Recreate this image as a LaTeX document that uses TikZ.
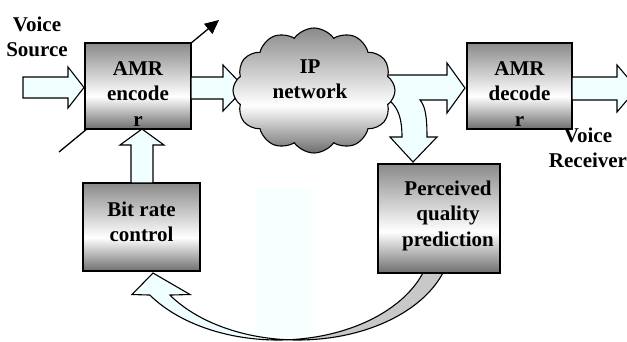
\documentclass[tikz,border=0pt]{standalone}
\usepackage{fontspec}
\setmainfont{Liberation Serif}
\usetikzlibrary{shapes.symbols,arrows.meta}
\definecolor{azurefill}{HTML}{F0FFFF}
\definecolor{bandgray}{HTML}{C8C8C8}
\definecolor{faint}{HTML}{F7FFFF}
\definecolor{shtop}{HTML}{8A8A8A}
\definecolor{shbot}{HTML}{6E6E6E}
\pgfdeclareverticalshading{boxshade}{100bp}{color(0bp)=(shbot); color(25bp)=(shbot); color(44bp)=(white); color(75bp)=(shtop); color(100bp)=(shtop)}
\newcommand{\mlines}[1]{\begin{tabular}[t]{@{}c@{}}#1\end{tabular}}
\begin{document}
\begin{tikzpicture}[x=1pt,y=-1pt,
  outl/.style={draw=black, line width=1.1pt, line join=miter},
  blk/.style={outl, fill=azurefill},
  boxst/.style={outl, shade, shading=boxshade, rectangle, inner sep=0pt},
  lbl/.style={font=\fontsize{21}{25.5}\selectfont\bfseries, inner sep=0pt, anchor=base}
]
\useasboundingbox (0,0) rectangle (627,341);
\clip (0,0) rectangle (627,341);

% faint background box
\fill[faint] (255,188) rectangle (313,341);

% curved feedback arrow: light part with head
\draw[blk] (132,294.5) -- (153,273) -- (190,294.5)
  -- plot[domain=146.6:93.7, samples=40, variable=\t] ({298+153.5*cos(\t)},{240+100*sin(\t)})
  -- plot[domain=86.3:146.6, samples=40, variable=\t] ({278+153.5*cos(\t)},{240+100*sin(\t)})
  -- cycle;
% curved feedback arrow: gray part
\draw[outl, fill=bandgray]
  plot[domain=86.3:15, samples=40, variable=\t] ({278+153.5*cos(\t)},{240+100*sin(\t)})
  -- plot[domain=15:93.7, samples=40, variable=\t] ({298+153.5*cos(\t)},{240+100*sin(\t)})
  -- cycle;

% diagonal arrow through encoder
\coordinate (dA) at (59,152);
\coordinate (dB) at (219,20);
\draw[line width=1.3pt, -{Triangle[length=14pt,width=13pt]}] (dA) -- (dB);

% boxes
\node[boxst, minimum width=106, minimum height=86] (enc) at (138,86) {};
\node[boxst, minimum width=105, minimum height=86] (dec) at (519.5,86) {};
\node[boxst, minimum width=117, minimum height=88] (brc) at (141.5,227) {};
\node[boxst, minimum width=122, minimum height=109] (pqp) at (439,218.5) {};

% block arrows
\draw[blk] (23,77) -- (68,77) -- (68,67) -- (84,87.5) -- (68,108) -- (68,98) -- (23,98) -- cycle;
\draw[blk] (191,77) -- (223,77) -- (223,65) -- (245,88) -- (223,111) -- (223,99) -- (191,99) -- cycle;
\draw[blk] (375,75) -- (447,75) -- (447,63) -- (465,88) -- (447,113) -- (447,100) -- (420,100)
  .. controls (425,106) and (427,115) .. (427,137) -- (437,137) -- (413,162) -- (390,137) -- (402,137)
  .. controls (402,118) and (398,108) .. (390,101) -- (375,101) -- cycle;
\draw[blk] (572,77) -- (617,77) -- (617,65) -- (637,88.5) -- (617,112) -- (617,100) -- (572,100) -- cycle;
\draw[blk] (131,183) -- (131,145) -- (120,145) -- (142,129) -- (164,145) -- (153,145) -- (153,183) -- cycle;

% cloud
\node[cloud, cloud puffs=12, cloud puff arc=110, cloud ignores aspect, minimum width=162, minimum height=125,
  outl, shade, shading=boxshade, inner sep=0pt] (net) at (314,90.5) {};

% texts
\node[lbl] (tsrc) at (37,31) {\mlines{Voice\\Source}};
\node[lbl] (trcv) at (588,142) {\mlines{Voice\\Receiver}};
\node[lbl] (tenc) at (138,75) {\mlines{AMR\\encode\\r}};
\node[lbl] (tdec) at (519.5,75) {\mlines{AMR\\decode\\r}};
\node[lbl] (tnet) at (310,73) {\mlines{IP\\network}};
\node[lbl] (tbrc) at (141.5,216) {\mlines{Bit rate\\control}};
\node[lbl] (tpqp) at (448,195) {\mlines{Perceived\\quality\\prediction}};
\end{tikzpicture}
\end{document}
